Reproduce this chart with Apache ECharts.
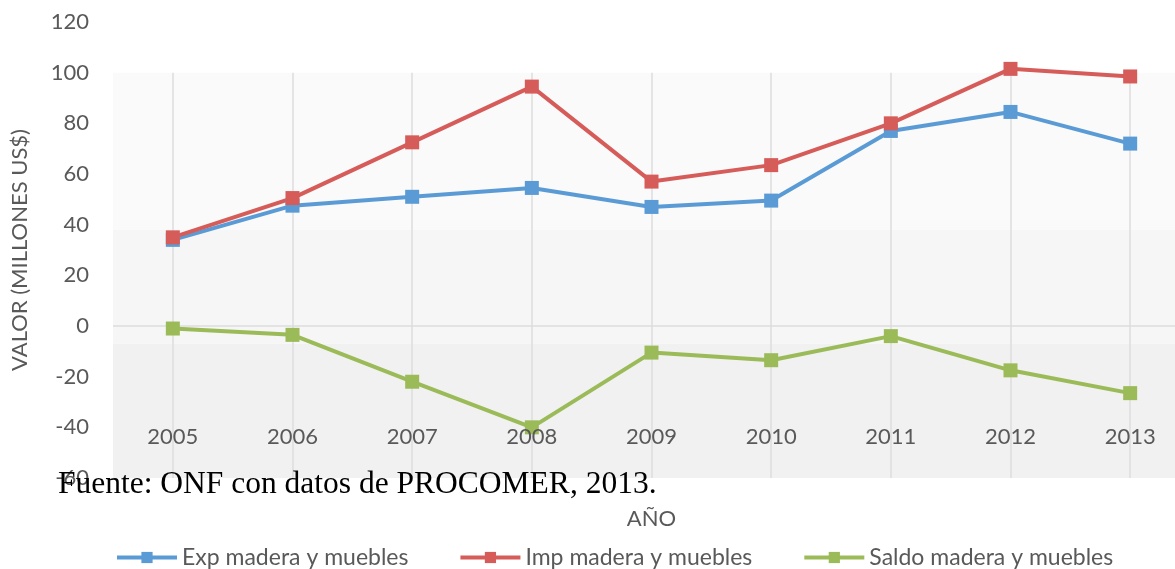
<!DOCTYPE html>
<html>
<head>
<meta charset="utf-8">
<script src="https://cdn.jsdelivr.net/npm/echarts@6/dist/echarts.min.js"></script>
<style>
  html, body { margin: 0; padding: 0; background: #fff; }
  #chart { width: 1175px; height: 569px; }
</style>
</head>
<body>
<div id="chart"></div>
<script>
// Exportaciones / importaciones de madera y muebles (millones US$)
const years = ['2005', '2006', '2007', '2008', '2009', '2010', '2011', '2012', '2013'];
const expValues = [34, 47.5, 51, 54.5, 47, 49.5, 77, 84.5, 72];
const impValues = [35, 50.5, 72.5, 94.5, 57, 63.5, 80, 101.5, 98.5];
const saldoValues = [-1, -3.5, -22, -40, -10.5, -13.5, -4, -17.5, -26.5];

const yTicks = { min: -60, max: 120, interval: 20 };
// bandas de fondo del área de trazado
const bands = [[100, 38, '#fafafa'], [38, -7, '#f6f6f6'], [-7, -60, '#f1f1f1']];

const gray = '#595959';
const font = 'Lato, "Open Sans", sans-serif';

const chart = echarts.init(document.getElementById('chart'));

function lineSeries(name, data, color) {
  return {
    name: name,
    type: 'line',
    data: data,
    symbol: 'rect',
    symbolSize: 14,
    z: 5,
    lineStyle: { width: 4, color: color },
    itemStyle: { color: color }
  };
}

const series = [
  lineSeries('Exp madera y muebles', expValues, '#5b9bd5'),
  lineSeries('Imp madera y muebles', impValues, '#d65c5a'),
  lineSeries('Saldo madera y muebles', saldoValues, '#9bbb59')
];

// serie auxiliar para fondo y líneas de guía
series.push({
  type: 'line',
  data: [],
  silent: true,
  z: 1,
  markArea: {
    silent: true,
    itemStyle: { opacity: 1 },
    data: bands.map(b => [{ yAxis: b[0], itemStyle: { color: b[2] } }, { yAxis: b[1] }])
  },
  markLine: {
    silent: true,
    symbol: 'none',
    label: { show: false },
    lineStyle: { color: '#dcdcdc', width: 1.5, type: 'solid' },
    data: [[{ yAxis: 0, x: 113 }, { yAxis: 0, x: 1175 }]].concat(
      years.map(y => [{ coord: [y, 100] }, { coord: [y, yTicks.min] }])
    )
  }
});

chart.setOption({
  animation: false,
  textStyle: { fontFamily: font },
  title: {
    text: 'Fuente: ONF con datos de PROCOMER, 2013.',
    left: 53,
    top: 464,
    z: 20,
    textStyle: { fontFamily: '"Liberation Serif", "Times New Roman", serif', fontSize: 31.5, fontWeight: 'normal', color: '#000' }
  },
  legend: {
    top: 541,
    left: 110,
    itemWidth: 60,
    itemHeight: 14,
    itemGap: 50,
    lineStyle: { width: 4 },
    textStyle: { fontFamily: font, fontSize: 23, color: gray },
    data: series.slice(0, 3).map(s => s.name)
  },
  grid: { left: 113, top: 22, width: 1077, height: 456, outerBoundsMode: 'none', containLabel: false },
  xAxis: {
    type: 'category',
    data: years,
    boundaryGap: true,
    z: 10,
    name: 'AÑO',
    nameLocation: 'middle',
    nameGap: 30,
    nameTextStyle: { fontSize: 22, color: gray, fontFamily: font },
    axisLine: { show: false },
    axisTick: { show: false },
    splitLine: { show: false },
    axisLabel: { inside: true, margin: 30, fontSize: 22, color: gray, fontFamily: font }
  },
  yAxis: {
    type: 'value',
    min: yTicks.min,
    max: yTicks.max,
    interval: yTicks.interval,
    z: 10,
    name: 'VALOR (MILLONES US$)',
    nameLocation: 'middle',
    nameGap: 82,
    nameTextStyle: { fontSize: 22, color: gray, fontFamily: font },
    axisLine: { show: false },
    axisTick: { show: false },
    splitLine: { show: false },
    axisLabel: { margin: 24, fontSize: 22, color: gray, fontFamily: font }
  },
  series: series
});
</script>
</body>
</html>
